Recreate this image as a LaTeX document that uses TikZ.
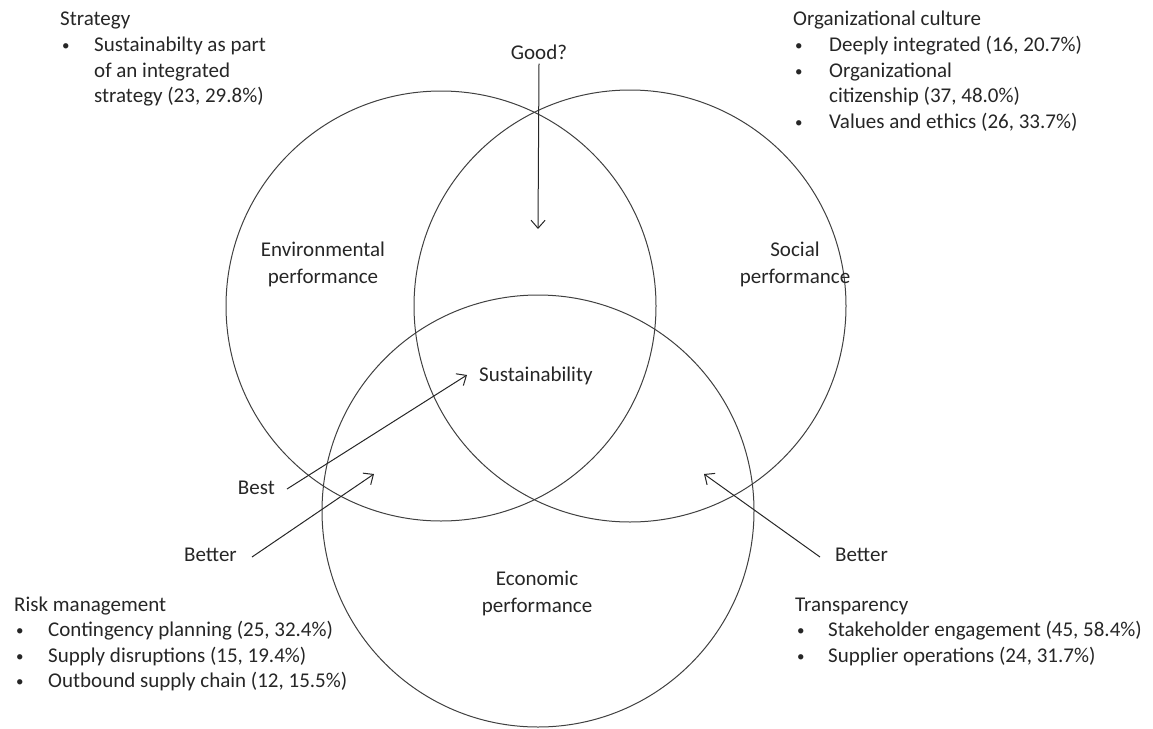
\documentclass[tikz,border=0pt]{standalone}
\usepackage{fontspec}
\setmainfont{Carlito}
\usetikzlibrary{arrows.meta}
\newcommand{\blockfont}{\fontsize{21}{25.5}\selectfont}
\newcommand{\blt}{\hspace{2pt}\raisebox{1pt}{\fontsize{15}{15}\selectfont\textbullet}}

\begin{document}
\begin{tikzpicture}[x=1pt,y=-1pt,
  venn/.style={draw=black!75,line width=1pt,circle,inner sep=0pt},
  lbl/.style={font=\fontsize{21}{27}\selectfont,text=black!85,align=center,inner sep=2pt},
  pointer/.style={draw=black!85,line width=1pt,-{Straight Barb[length=8pt,width=14pt]}},
  list/.style={font=\blockfont,text=black!85,anchor=base west,inner sep=0pt}]
\useasboundingbox (0,0) rectangle (1153,728);

% the three circles
\node[venn,minimum size=430pt] (env) at (441,306) {};
\node[venn,minimum size=432pt] (soc) at (630,306) {};
\node[venn,minimum size=432pt] (eco) at (538,511) {};

\node[lbl] (envlbl) at (323,264) {Environmental\\performance};
\node[lbl] (soclbl) at (795,264) {Social\\performance};
\node[lbl] (ecolbl) at (537,593) {Economic\\performance};
\node[lbl,anchor=west,inner sep=0pt] (sust) at (479,376) {Sustainability};

% arrows
\node[lbl] (good) at (539,52) {Good?};
\node[lbl,anchor=east,inner sep=0pt] (best) at (275,488) {Best};
\node[lbl,anchor=east,inner sep=0pt] (betterl) at (237,555) {Better};
\node[lbl,anchor=west,inner sep=0pt] (betterr) at (835,555) {Better};
\coordinate (goodtip) at (538,229);
\coordinate (besttip) at (467,375);
\coordinate (betterltip) at (374,474);
\coordinate (betterrtip) at (704,474);
\draw[pointer] ([yshift=-2pt]good.south) -- (goodtip);
\draw[pointer] ([xshift=12pt,yshift=-1pt]best.east) -- (besttip);
\draw[pointer] ([xshift=15pt,yshift=-2pt]betterl.east) -- (betterltip);
\draw[pointer] ([xshift=-15pt,yshift=-2pt]betterr.west) -- (betterrtip);

% the four lists
\node[list] (strategy) at (60,25) {\begin{tabular}[t]{@{}p{34pt}@{}l@{}}
\multicolumn{2}{@{}l@{}}{Strategy}\\[1pt]
\blt & Sustainabilty as part\\
 & of an integrated\\
 & strategy (23, 29.8\%)
\end{tabular}};
\node[list] (culture) at (793,25) {\begin{tabular}[t]{@{}p{36pt}@{}l@{}}
\multicolumn{2}{@{}l@{}}{Organizational culture}\\[1pt]
\blt & Deeply integrated (16, 20.7\%)\\
\blt & Organizational\\
 & citizenship (37, 48.0\%)\\
\blt & Values and ethics (26, 33.7\%)
\end{tabular}};
\node[list] (risk) at (14,611) {\begin{tabular}[t]{@{}p{34pt}@{}l@{}}
\multicolumn{2}{@{}l@{}}{Risk management}\\
\blt & Contingency planning (25, 32.4\%)\\
\blt & Supply disruptions (15, 19.4\%)\\
\blt & Outbound supply chain (12, 15.5\%)
\end{tabular}};
\node[list] (transp) at (795,611) {\begin{tabular}[t]{@{}p{33pt}@{}l@{}}
\multicolumn{2}{@{}l@{}}{Transparency}\\
\blt & Stakeholder engagement (45, 58.4\%)\\
\blt & Supplier operations (24, 31.7\%)
\end{tabular}};
\end{tikzpicture}
\end{document}
